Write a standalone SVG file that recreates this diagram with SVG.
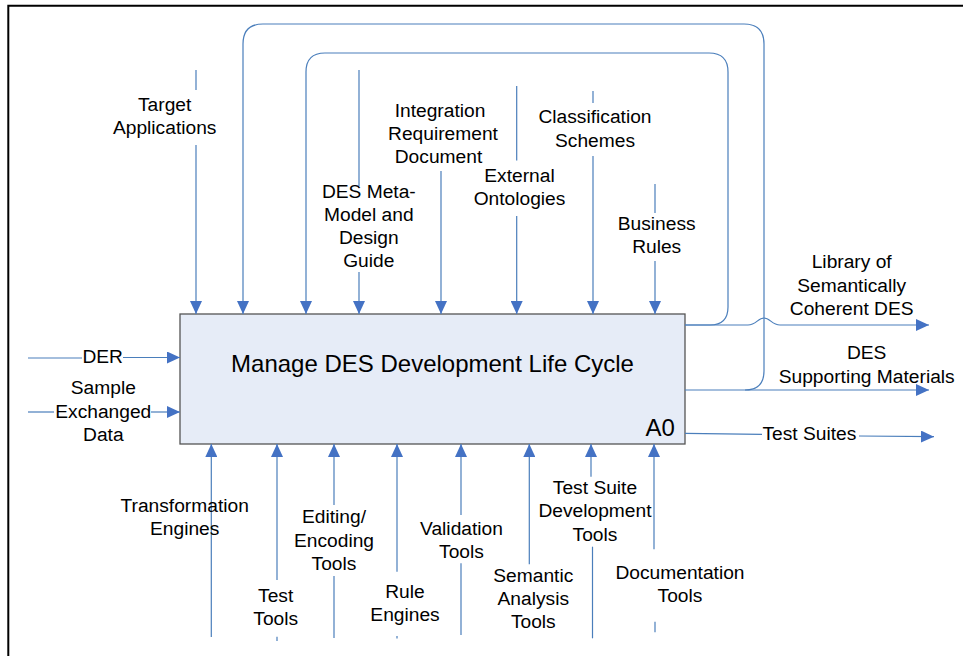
<svg xmlns="http://www.w3.org/2000/svg" width="963" height="656" viewBox="0 0 963 656">
<style>
.ln{fill:none;stroke:#4a7ebb;stroke-width:1.2}
.ar{marker-end:url(#ah)}
.t{font-family:"Liberation Sans",Arial,sans-serif;font-size:19.2px;fill:#000;text-anchor:middle}
.ts{text-anchor:start}
.big{font-family:"Liberation Sans",Arial,sans-serif;font-size:24px;fill:#000}
</style>
<defs>
<marker id="ah" viewBox="0 0 13 12" refX="13" refY="6" markerWidth="13" markerHeight="12" markerUnits="userSpaceOnUse" orient="auto">
<path d="M0,0 L13,6 L0,12 z" fill="#4472c4"/>
</marker>
</defs>
<rect width="963" height="656" fill="#fff"/>
<path d="M8.3,656 V5.8 H963" fill="none" stroke="#000" stroke-width="2"/>

<g id="A0">
<rect x="180" y="314" width="505" height="130" fill="#e6ecf7" stroke="#555" stroke-width="1.3"/>
<text class="big" x="432.5" y="371.5" text-anchor="middle">Manage DES Development Life Cycle</text>
<text class="big" x="645.5" y="436">A0</text>
</g>

<g id="connectors">
<!-- top controls -->
<path class="ln" d="M196,70 V90"/>
<path class="ln ar" d="M196,145 V314"/>
<path class="ln ar" d="M685,390 H745 Q764,390 764,371 V44 Q764,24 744,24 H263 Q243,24 243,44 V314"/>
<path class="ln ar" d="M685,325 H710 Q728,325 728,307 V72 Q728,53 709,53 H325 Q306,53 306,72 V314"/>
<path class="ln" d="M359,70 V186"/>
<path class="ln ar" d="M359,272 V314"/>
<path class="ln ar" d="M441,171 V314"/>
<path class="ln" d="M516.7,86 V160.5"/>
<path class="ln ar" d="M516.7,216 V314"/>
<path class="ln" d="M593,91 V103"/>
<path class="ln ar" d="M593,156 V314"/>
<path class="ln" d="M655,184 V213"/>
<path class="ln ar" d="M655,261 V314"/>
<!-- left inputs -->
<path class="ln" d="M28,358 H82"/>
<path class="ln ar" d="M123,357.5 H180"/>
<path class="ln" d="M28,412 H54"/>
<path class="ln ar" d="M151,412 H180"/>
<!-- outputs -->
<path class="ln ar" d="M685,325 H748 C756,325 758,318 764,318 C770,318 772,325 780,325 H929"/>
<path class="ln ar" d="M745,390 H929"/>
<path class="ln" d="M685,433.3 L762,434.3"/>
<path class="ln ar" d="M859,436 L934,436.7"/>
<!-- bottom mechanisms -->
<path class="ln ar" d="M211.3,637 V444"/>
<path class="ln ar" d="M277,580 V444"/>
<path class="ln" d="M277,636.7 V641"/>
<path class="ln ar" d="M334,505 V444"/>
<path class="ln" d="M334,576 V638"/>
<path class="ln ar" d="M397,571.7 V444"/>
<path class="ln" d="M397,636 V638.5"/>
<path class="ln ar" d="M461,515 V444"/>
<path class="ln" d="M461,563.3 V635"/>
<path class="ln ar" d="M529.3,564.3 V444"/>
<path class="ln ar" d="M591,476.7 V444"/>
<path class="ln" d="M592.5,546.7 V638.3"/>
<path class="ln ar" d="M654,549.3 V444"/>
<path class="ln" d="M655,621.7 V632.3"/>
</g>

<g id="labels">
<text class="t" x="164.7" y="111">Target</text>
<text class="t" x="164.7" y="134.3">Applications</text>
<text class="t" x="368.8" y="197.5">DES Meta-</text>
<text class="t" x="368.8" y="220.8">Model and</text>
<text class="t" x="368.8" y="244.1">Design</text>
<text class="t" x="368.8" y="267.4">Guide</text>
<text class="t" x="440" y="116.5">Integration</text>
<text class="t" x="443" y="139.8">Requirement</text>
<text class="t" x="438.5" y="163">Document</text>
<text class="t" x="519.5" y="181.7">External</text>
<text class="t" x="519.5" y="205">Ontologies</text>
<text class="t" x="595" y="123.3">Classification</text>
<text class="t" x="595" y="146.6">Schemes</text>
<text class="t" x="656.7" y="230">Business</text>
<text class="t" x="656.7" y="253.3">Rules</text>
<text class="t" x="851.7" y="268.3">Library of</text>
<text class="t" x="851.7" y="291.6">Semantically</text>
<text class="t" x="851.7" y="314.9">Coherent DES</text>
<text class="t" x="866.7" y="359.3">DES</text>
<text class="t" x="866.7" y="382.6">Supporting Materials</text>
<text class="t ts" x="762.5" y="440">Test Suites</text>
<text class="t" x="102.7" y="362.7">DER</text>
<text class="t" x="103.3" y="394.3">Sample</text>
<text class="t" x="103.3" y="417.6">Exchanged</text>
<text class="t" x="103.3" y="440.9">Data</text>
<text class="t" x="184.7" y="511.7">Transformation</text>
<text class="t" x="184.7" y="535">Engines</text>
<text class="t" x="275.7" y="601.7">Test</text>
<text class="t" x="275.7" y="625">Tools</text>
<text class="t" x="334" y="523.3">Editing/</text>
<text class="t" x="334" y="546.6">Encoding</text>
<text class="t" x="334" y="569.9">Tools</text>
<text class="t" x="405" y="597.7">Rule</text>
<text class="t" x="405" y="621">Engines</text>
<text class="t" x="461.5" y="534.6">Validation</text>
<text class="t" x="461.5" y="557.9">Tools</text>
<text class="t" x="533.3" y="581.7">Semantic</text>
<text class="t" x="533.3" y="605">Analysis</text>
<text class="t" x="533.3" y="628.3">Tools</text>
<text class="t" x="595" y="494">Test Suite</text>
<text class="t" x="595" y="517.3">Development</text>
<text class="t" x="595" y="540.6">Tools</text>
<text class="t" x="680" y="579">Documentation</text>
<text class="t" x="680" y="602.3">Tools</text>
</g>
</svg>
